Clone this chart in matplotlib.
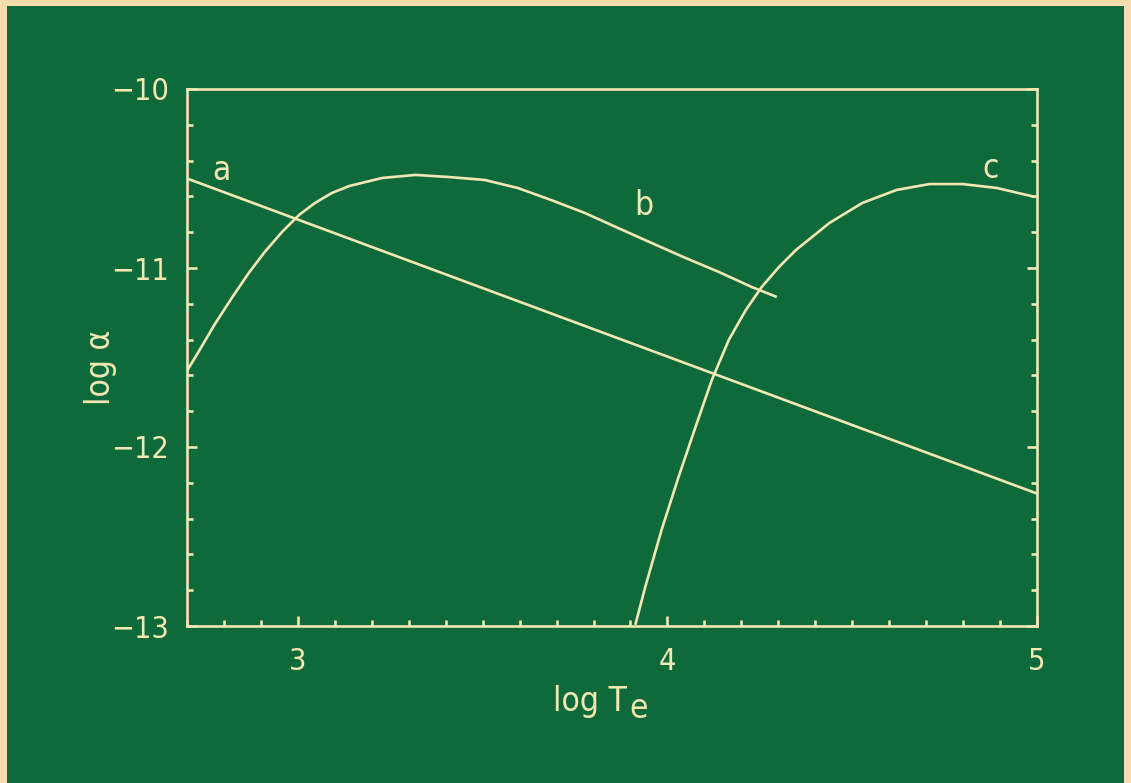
import matplotlib
matplotlib.use('Agg')
import matplotlib.pyplot as plt
from matplotlib.patches import Rectangle
from matplotlib.ticker import MultipleLocator

# -------------------------------------------------------------------------------------------------------
# data (log T_e, log alpha)
# -------------------------------------------------------------------------------------------------------
a_x = [2.70, 5.00]
a_y = [-10.50, -12.26]

b_x = [2.693, 2.731, 2.774, 2.821, 2.867, 2.910, 2.957, 3.003, 3.046, 3.092, 3.139, 3.228, 3.318, 3.410,
       3.505, 3.595, 3.685, 3.777, 3.867, 3.957, 4.049, 4.139, 4.228, 4.296]
b_y = [-11.598, -11.469, -11.318, -11.168, -11.028, -10.911, -10.799, -10.704, -10.637, -10.581, -10.542,
       -10.497, -10.480, -10.492, -10.508, -10.553, -10.620, -10.693, -10.777, -10.860, -10.944, -11.022,
       -11.106, -11.162]

c_x = [3.913, 3.940, 3.984, 4.030, 4.076, 4.120, 4.166, 4.212, 4.255, 4.302, 4.348, 4.438, 4.527, 4.620,
       4.709, 4.799, 4.891, 4.995]
c_y = [-12.994, -12.782, -12.464, -12.168, -11.888, -11.626, -11.402, -11.235, -11.106, -10.994, -10.899,
       -10.749, -10.637, -10.564, -10.531, -10.531, -10.553, -10.603]

curve_labels = ['a', 'b', 'c']
label_pos = [(2.793, -10.508), (3.935, -10.704), (4.875, -10.497)]

x_ticks = [3, 4, 5]
y_ticks = [-10, -11, -12, -13]
y_ticklabels = ['\u221210', '\u221211', '\u221212', '\u221213']

green = '#0e6a3a'
cream = '#f3e7b2'
beige = '#f7dcae'


def main():
    plt.rcParams['font.family'] = ['DejaVu Sans']
    fig = plt.figure(figsize=(11.31, 7.83), dpi=100, facecolor=beige)
    # green board with a thin paper edge at top / sides
    board = Rectangle((7 / 1131, 0), 1117 / 1131, 1 - 6 / 783, transform=fig.transFigure,
                      facecolor=green, edgecolor='none')
    board.set_zorder(-10)
    fig.add_artist(board)

    ax = fig.add_axes([187 / 1131, 1 - 626 / 783, 850 / 1131, 537 / 783])
    ax.set_facecolor('none')

    lw = 1.9
    ax.plot(a_x, a_y, color=cream, lw=lw, solid_capstyle='butt')
    ax.plot(b_x, b_y, color=cream, lw=lw, solid_capstyle='butt')
    ax.plot(c_x, c_y, color=cream, lw=lw, solid_capstyle='butt', clip_on=False)

    for lab, (lx, ly) in zip(curve_labels, label_pos):
        ax.text(lx, ly, lab, color=cream, fontsize=24, ha='center', va='baseline', fontstretch='condensed')

    ax.set_xlim(2.7, 5.0)
    ax.set_ylim(-13, -10)
    ax.set_xticks(x_ticks)
    ax.set_yticks(y_ticks)
    ax.set_yticklabels(y_ticklabels)
    ax.xaxis.set_minor_locator(MultipleLocator(0.1))
    ax.yaxis.set_minor_locator(MultipleLocator(0.2))

    for s in ax.spines.values():
        s.set_color(cream)
        s.set_linewidth(lw)

    ax.tick_params(axis='both', which='both', direction='in', color=cream, labelcolor=cream, width=lw)
    ax.tick_params(axis='x', which='both', top=False, bottom=True)
    ax.tick_params(axis='y', which='both', left=True, right=True)
    ax.tick_params(which='major', length=7.5)
    ax.tick_params(which='minor', length=4.5)
    ax.tick_params(axis='x', which='major', labelsize=22, pad=15)
    ax.tick_params(axis='y', which='major', labelsize=22, pad=13)
    for t in ax.get_xticklabels() + ax.get_yticklabels():
        t.set_fontstretch('condensed')

    ax.set_xlabel('log T', color=cream, fontsize=24, va='center', fontstretch='condensed')
    ax.xaxis.set_label_coords(0.474, -0.14)
    ax.annotate('e', xy=(1, 0), xycoords=ax.xaxis.label, xytext=(2, -5.5), textcoords='offset points',
                ha='left', va='bottom', color=cream, fontsize=24, fontstretch='condensed')
    ax.set_ylabel('log \u03b1', color=cream, fontsize=24, va='center', fontstretch='condensed')
    ax.yaxis.set_label_coords(-0.102, 0.482)

    fig.savefig('out.png', dpi=100, facecolor=fig.get_facecolor())


if __name__ == '__main__':
    main()
